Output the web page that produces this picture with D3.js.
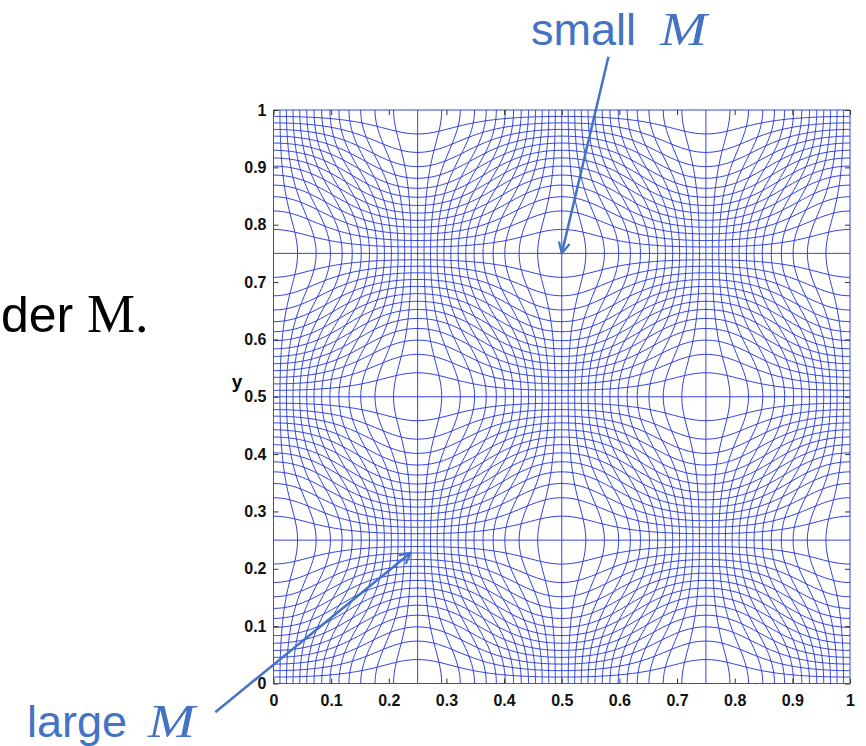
<!DOCTYPE html>
<html lang="en">
<head>
<meta charset="utf-8" />
<script src="https://d3js.org/d3.v7.min.js"></script>
<title>Adaptive mesh</title>
<style>
    body { margin: 0; background: #fff; }
    svg { display: block; }
    .tick text { font-family: 'Liberation Sans', Arial, sans-serif; font-weight: bold; font-size: 16px; fill: #111; }
    .tick line { stroke: #333; }
</style>
</head>
<body>
<div id="chart"></div>
<script>
    // axis ticks
    var tickValues = [0, 0.1, 0.2, 0.3, 0.4, 0.5, 0.6, 0.7, 0.8, 0.9, 1];
    var tickLabels = ["0", "0.1", "0.2", "0.3", "0.4", "0.5", "0.6", "0.7", "0.8", "0.9", "1"];

    // mesh: cells per side, monitor peak strength, waves per side
    var meshCells = [56];
    var monitorAmplitude = [0.6];
    var monitorWaves = [2];

    // annotations: label, math symbol, arrow tail and tip (data coords)
    var noteLabels = ["small", "large"];
    var noteSymbols = ["M", "M"];
    var arrowTails = [[0.581, 1.093], [-0.101, -0.050]];
    var arrowTips = [[0.500, 0.750], [0.238, 0.228]];

    var width = 866, height = 746;
    var blue = "#4472c4";

    var svg = d3.select("#chart").append("svg")
        .attr("width", width)
        .attr("height", height);

    svg.append("rect").attr("width", width).attr("height", height).attr("fill", "#fff");

    var x = d3.scaleLinear().domain([0, 1]).range([273.5, 850]);
    var y = d3.scaleLinear().domain([0, 1]).range([683.5, 110]);

    // physical node for computational point (s, t): invert the equidistribution map
    var N = meshCells[0], a = monitorAmplitude[0], k = 2 * Math.PI * monitorWaves[0];
    function node(s, t) {
        var px = s, py = t;
        for (var it = 0; it < 40; it++) {
            var sx = Math.sin(k * px), cx = Math.cos(k * px);
            var sy = Math.sin(k * py), cy = Math.cos(k * py);
            var f1 = px + a * sx * cy / k - s;
            var f2 = py + a * cx * sy / k - t;
            var d = 1 + a * cx * cy, o = -a * sx * sy;
            var det = d * d - o * o;
            px -= (d * f1 - o * f2) / det;
            py -= (d * f2 - o * f1) / det;
        }
        return [px, py];
    }

    var line = d3.line()
        .x(function (p) { return x(p[0]); })
        .y(function (p) { return y(p[1]); });

    var fine = d3.range(0, N * 4 + 1).map(function (j) { return j / (N * 4); });
    var meshLines = [];
    d3.range(0, N + 1).forEach(function (i) {
        var s = i / N;
        meshLines.push(fine.map(function (t) { return node(s, t); }));
        meshLines.push(fine.map(function (t) { return node(t, s); }));
    });

    svg.append("g").selectAll("path")
        .data(meshLines)
        .enter()
        .append("path")
        .attr("d", line)
        .attr("fill", "none")
        .attr("stroke", "#3142dc")
        .attr("stroke-width", 1);

    // axes, ticks pointing inward
    var fmt = function (d, i) { return tickLabels[i]; };
    svg.append("g").attr("transform", "translate(0," + y(0) + ")")
        .call(d3.axisBottom(x).tickValues(tickValues).tickFormat(fmt).tickSize(-5).tickPadding(11))
        .call(function (g) { g.select(".domain").remove(); });
    svg.append("g").attr("transform", "translate(" + x(0) + ",0)")
        .call(d3.axisLeft(y).tickValues(tickValues).tickFormat(fmt).tickSize(-5).tickPadding(7))
        .call(function (g) { g.select(".domain").remove(); });
    svg.append("g").attr("transform", "translate(0," + y(1) + ")")
        .call(d3.axisTop(x).tickValues(tickValues).tickFormat("").tickSize(-5))
        .call(function (g) { g.select(".domain").remove(); });
    svg.append("g").attr("transform", "translate(" + x(1) + ",0)")
        .call(d3.axisRight(y).tickValues(tickValues).tickFormat("").tickSize(-5))
        .call(function (g) { g.select(".domain").remove(); });

    svg.append("text")
        .attr("x", 237).attr("y", 388)
        .attr("text-anchor", "middle")
        .style("font-family", "'Liberation Sans', Arial, sans-serif")
        .style("font-weight", "bold")
        .style("font-size", "19px")
        .text("y");

    // slide text on the left
    svg.append("text")
        .attr("x", 1).attr("y", 332)
        .style("font-family", "'Liberation Sans', Arial, sans-serif")
        .style("font-size", "50px")
        .text("der");
    svg.append("text")
        .attr("x", 87).attr("y", 332)
        .style("font-family", "'Liberation Serif', serif")
        .style("font-size", "54px")
        .text("M.");

    // annotations
    var notePos = [[531, 45], [27, 737]];
    var symPos = [[660, 45], [148, 737]];
    noteLabels.forEach(function (lab, i) {
        svg.append("text")
            .attr("x", notePos[i][0]).attr("y", notePos[i][1])
            .attr("fill", blue)
            .style("font-family", "'Liberation Sans', Arial, sans-serif")
            .style("font-size", "45px")
            .text(lab);
        svg.append("text")
            .attr("x", symPos[i][0]).attr("y", symPos[i][1])
            .attr("fill", blue)
            .attr("textLength", 47)
            .attr("lengthAdjust", "spacingAndGlyphs")
            .style("font-family", "'Liberation Serif', serif")
            .style("font-style", "italic")
            .style("font-size", "46px")
            .text(noteSymbols[i]);
    });

    svg.append("defs").append("marker")
        .attr("id", "head")
        .attr("viewBox", "-12 -7 14 14")
        .attr("refX", 0).attr("refY", 0)
        .attr("markerWidth", 14).attr("markerHeight", 14)
        .attr("markerUnits", "userSpaceOnUse")
        .attr("orient", "auto")
        .append("path")
        .attr("d", "M-11,-5.5L0,0L-11,5.5")
        .attr("fill", "none")
        .attr("stroke", blue)
        .attr("stroke-width", 2.2);

    arrowTails.forEach(function (tail, i) {
        svg.append("line")
            .attr("x1", x(tail[0])).attr("y1", y(tail[1]))
            .attr("x2", x(arrowTips[i][0])).attr("y2", y(arrowTips[i][1]))
            .attr("stroke", blue)
            .attr("stroke-width", 2.5)
            .attr("marker-end", "url(#head)");
    });
</script>
</body>
</html>
